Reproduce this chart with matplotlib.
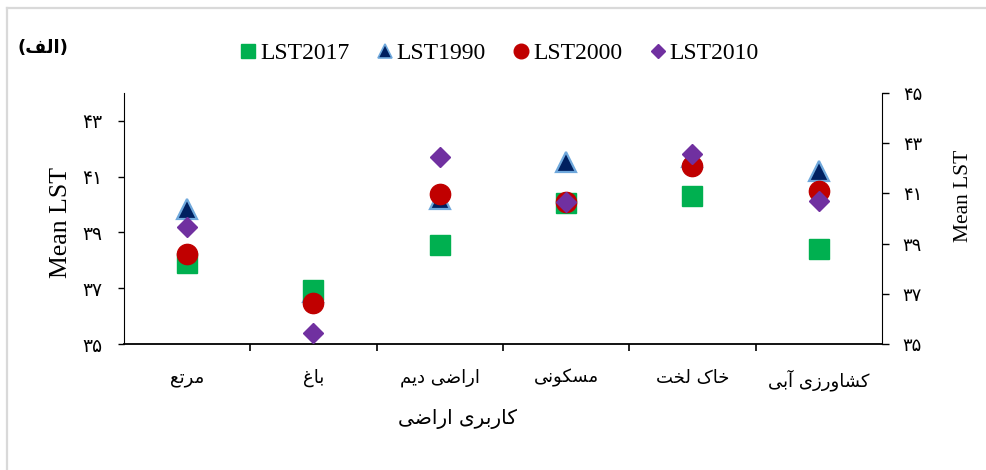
import numpy as np
import matplotlib
matplotlib.use('Agg')
import matplotlib.pyplot as plt
from matplotlib.lines import Line2D

# data
categories = ['مرتع', 'باغ', 'اراضی دیم', 'مسکونی', 'خاک لخت', 'کشاورزی آبی']
lst2017 = [37.90, 36.95, 38.54, 40.05, 40.32, 38.42]
lst1990 = [39.86, 36.86, 40.20, 41.51, 41.70, 41.19]
lst2000 = [38.24, 36.48, 40.38, 40.08, 41.39, 40.50]
lst2010 = [39.21, 35.38, 41.69, 40.08, 41.83, 40.14]
left_ticks = [35, 37, 39, 41, 43]
right_ticks = [35, 37, 39, 41, 43, 45]
xlabel = 'کاربری اراضی'
ylabel = 'Mean LST'
panel = 'الف'

# matplotlib has no arabic shaping, so pick presentation forms by hand
FORMS = {
    'ا': ('\uFE8D', '\uFE8E', None, None),
    'آ': ('\uFE81', '\uFE82', None, None),
    'ب': ('\uFE8F', '\uFE90', '\uFE91', '\uFE92'),
    'ت': ('\uFE95', '\uFE96', '\uFE97', '\uFE98'),
    'خ': ('\uFEA5', '\uFEA6', '\uFEA7', '\uFEA8'),
    'د': ('\uFEA9', '\uFEAA', None, None),
    'ر': ('\uFEAD', '\uFEAE', None, None),
    'ز': ('\uFEAF', '\uFEB0', None, None),
    'س': ('\uFEB1', '\uFEB2', '\uFEB3', '\uFEB4'),
    'ش': ('\uFEB5', '\uFEB6', '\uFEB7', '\uFEB8'),
    'ض': ('\uFEBD', '\uFEBE', '\uFEBF', '\uFEC0'),
    'ع': ('\uFEC9', '\uFECA', '\uFECB', '\uFECC'),
    'غ': ('\uFECD', '\uFECE', '\uFECF', '\uFED0'),
    'ف': ('\uFED1', '\uFED2', '\uFED3', '\uFED4'),
    'ل': ('\uFEDD', '\uFEDE', '\uFEDF', '\uFEE0'),
    'م': ('\uFEE1', '\uFEE2', '\uFEE3', '\uFEE4'),
    'ن': ('\uFEE5', '\uFEE6', '\uFEE7', '\uFEE8'),
    'و': ('\uFEED', '\uFEEE', None, None),
    'ک': ('\uFB8E', '\uFB8F', '\uFB90', '\uFB91'),
    'ی': ('\uFBFC', '\uFBFD', '\uFBFE', '\uFBFF'),
}


def dual(c):
    return c in FORMS and FORMS[c][2] is not None


def fa(text):
    out = []
    for i, c in enumerate(text):
        if c not in FORMS:
            out.append(c)
            continue
        prev = text[i - 1] if i > 0 else ''
        nxt = text[i + 1] if i + 1 < len(text) else ''
        join_prev = dual(prev)
        join_next = dual(c) and nxt in FORMS
        if join_prev and join_next:
            out.append(FORMS[c][3])
        elif join_prev:
            out.append(FORMS[c][1])
        elif join_next:
            out.append(FORMS[c][2])
        else:
            out.append(FORMS[c][0])
    return ''.join(reversed(out))


def fa_digits(n):
    return ''.join(chr(0x06F0 + int(d)) for d in str(n))


SERIF = ['Liberation Serif', 'DejaVu Sans']
SANS = ['DejaVu Sans']

fig = plt.figure(figsize=(9.87, 4.70), dpi=100)
ax = fig.add_axes([0.1256, 0.268, 0.768, 0.534])
ax2 = ax.twinx()

x = np.arange(1, len(categories) + 1)
# LST1990 sits underneath the other series
ax.plot(x, lst2017, 's', color='#00B050', markersize=14.2, zorder=3)
ax.plot(x, lst1990, '^', color='#002060', markeredgecolor='#6FA8DC',
        markeredgewidth=1.6, markersize=14, zorder=2.5)
ax.plot(x, lst2000, 'o', color='#C00000', markersize=14.6, zorder=3)
ax.plot(x, lst2010, 'D', color='#7030A0', markersize=10.2, zorder=3)

ax.set_xlim(0.5, len(categories) + 0.5)
ax.set_ylim(35, 44)
ax2.set_ylim(35, 45)

ax.set_xticks(x)
ax.set_xticklabels([fa(c) for c in categories], family=SANS, fontsize=13)
ax.set_xticks(np.arange(1.5, len(categories), 1), minor=True)
ax.tick_params(axis='x', which='major', length=0, pad=18)
ax.tick_params(axis='x', which='minor', length=5, width=1.2, direction='out')

ax.set_yticks(left_ticks)
ax.set_yticklabels([fa_digits(t) for t in left_ticks], family=SANS, fontsize=13.5)
ax.tick_params(axis='y', length=4.5, width=1, pad=11)
ax2.set_yticks(right_ticks)
ax2.set_yticklabels([fa_digits(t) for t in right_ticks], family=SANS, fontsize=13)
ax2.tick_params(axis='y', length=5, width=1, pad=10)

for a in (ax, ax2):
    a.spines['top'].set_visible(False)
ax2.spines['left'].set_visible(False)
ax2.spines['bottom'].set_visible(False)
ax.spines['right'].set_visible(False)
ax.spines['bottom'].set_linewidth(1.3)

ax.set_ylabel(ylabel, family=SERIF, fontsize=18.5)
ax.yaxis.set_label_coords(-0.068, 0.486)
ax2.set_ylabel(ylabel, family=SERIF, fontsize=15.5)
ax2.yaxis.set_label_coords(1.095, 0.59)

ax.text(0.44, -0.30, fa(xlabel), transform=ax.transAxes, family=SANS,
        fontsize=14.5, ha='center', va='center')

fig.text(0.018, 0.897, '(' + fa(panel) + ')', family=SANS, fontsize=13,
         fontweight='bold', ha='left', va='center')

handles = [
    Line2D([], [], ls='none', marker='s', color='#00B050', markersize=10),
    Line2D([], [], ls='none', marker='^', color='#002060', markeredgecolor='#6FA8DC',
           markeredgewidth=1.2, markersize=10),
    Line2D([], [], ls='none', marker='o', color='#C00000', markersize=10.5),
    Line2D([], [], ls='none', marker='D', color='#7030A0', markersize=7.5),
]
fig.legend(handles, ['LST2017', 'LST1990', 'LST2000', 'LST2010'], ncol=4,
           loc='center', bbox_to_anchor=(0.503, 0.887), frameon=False,
           prop={'family': SERIF, 'size': 17}, handletextpad=-0.1,
           columnspacing=0.9, handlelength=1.2)

# light grey frame along the left and top edges
fig.add_artist(Line2D([7 / 987, 7 / 987], [0, 1 - 8 / 470], transform=fig.transFigure,
                      color='#d9d9d9', lw=1.6))
fig.add_artist(Line2D([7 / 987, 1], [1 - 8 / 470, 1 - 8 / 470], transform=fig.transFigure,
                      color='#d9d9d9', lw=1.6))

plt.savefig('out.png', dpi=100)
